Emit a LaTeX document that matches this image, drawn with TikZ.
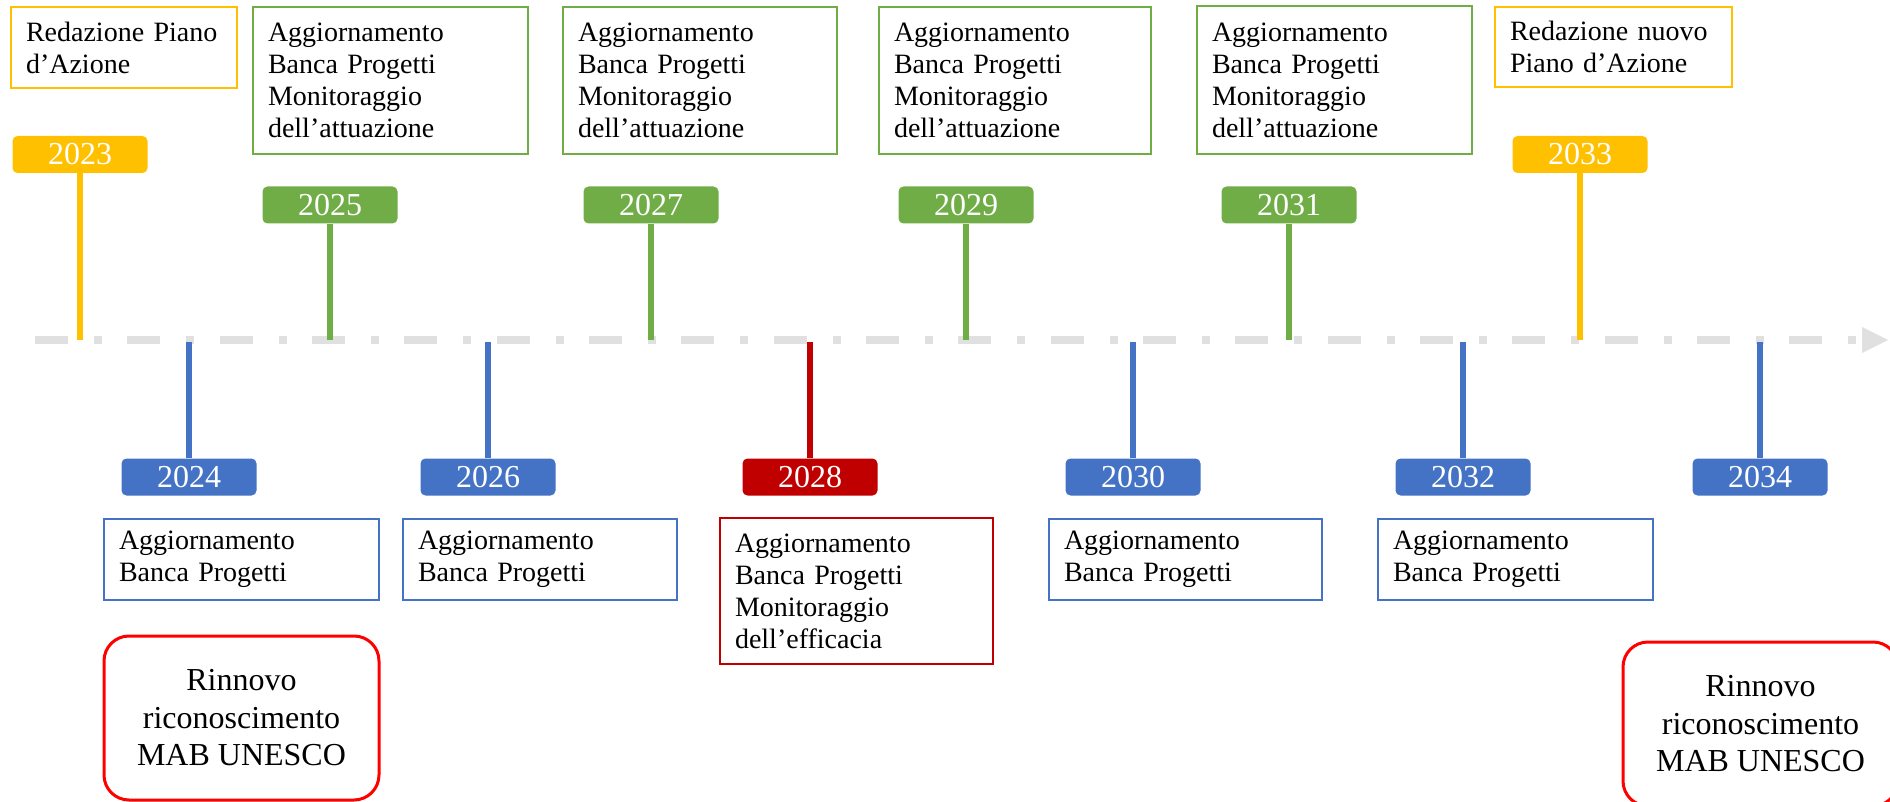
\documentclass[tikz,border=0pt]{standalone}
\usepackage{fontspec}
\setmainfont{Liberation Serif}
\definecolor{ygold}{HTML}{FFC000}
\definecolor{ggreen}{HTML}{70AD47}
\definecolor{bblue}{HTML}{4472C4}
\definecolor{dred}{HTML}{C00000}
\definecolor{brred}{HTML}{FF0000}
\definecolor{axcol}{HTML}{E0E0E0}
\begin{document}
\begin{tikzpicture}[x=0.5pt,y=-0.5pt,
  yearbox/.style={rectangle, rounded corners=2.5pt, minimum width=67.5pt, minimum height=18.5pt, inner sep=0pt, text=white, font=\fontsize{16}{18}\selectfont},
  stem/.style={line width=2.6pt},
  txtbox/.style={rectangle, draw, line width=1pt, align=left, inner xsep=7.5pt, inner ysep=0pt, font=\fontsize{14}{16}\selectfont},
  renewbox/.style={rectangle, draw=brred, line width=1.5pt, rounded corners=12.5pt, align=center, inner sep=0pt, minimum width=137.5pt, minimum height=82pt, font=\fontsize{16}{18.75}\selectfont},
  axisline/.style={draw=axcol, line width=4pt, dash pattern=on 16.5pt off 13pt on 4pt off 12.67pt}
]
\useasboundingbox (0,0) rectangle (1890,802);

% axis
\coordinate (axS) at (35,340);
\coordinate (axE) at (1862,340);
\coordinate (axU) at (1862,327);
\coordinate (axD) at (1862,353);
\coordinate (axT) at (1888,340);
\draw[axisline] (axS) -- (axE);
\fill[axcol] (axU) -- (axT) -- (axD) -- cycle;

% axis anchor points
\coordinate (a23) at (80,340);
\coordinate (a25) at (330,340);
\coordinate (a27) at (651,340);
\coordinate (a29) at (966,340);
\coordinate (a31) at (1289,340);
\coordinate (a33) at (1580,340);
\coordinate (a24) at (189,342);
\coordinate (a26) at (488,342);
\coordinate (a28) at (810,342);
\coordinate (a30) at (1133,342);
\coordinate (a32) at (1463,342);
\coordinate (a34) at (1760,342);

% year boxes
\node[yearbox, fill=ygold]  (y23) at (80,154.5) {2023};
\node[yearbox, fill=ggreen] (y25) at (330,205) {2025};
\node[yearbox, fill=ggreen] (y27) at (651,205) {2027};
\node[yearbox, fill=ggreen] (y29) at (966,205) {2029};
\node[yearbox, fill=ggreen] (y31) at (1289,205) {2031};
\node[yearbox, fill=ygold]  (y33) at (1580,154.5) {2033};
\node[yearbox, fill=bblue] (y24) at (189,477) {2024};
\node[yearbox, fill=bblue] (y26) at (488,477) {2026};
\node[yearbox, fill=dred]  (y28) at (810,477) {2028};
\node[yearbox, fill=bblue] (y30) at (1133,477) {2030};
\node[yearbox, fill=bblue] (y32) at (1463,477) {2032};
\node[yearbox, fill=bblue] (y34) at (1760,477) {2034};

% stems
\draw[stem, ygold]  (y23.south) -- (a23);
\draw[stem, ggreen] (y25.south) -- (a25);
\draw[stem, ggreen] (y27.south) -- (a27);
\draw[stem, ggreen] (y29.south) -- (a29);
\draw[stem, ggreen] (y31.south) -- (a31);
\draw[stem, ygold]  (y33.south) -- (a33);
\draw[stem, bblue] (a24) -- (y24.north);
\draw[stem, bblue] (a26) -- (y26.north);
\draw[stem, dred]  (a28) -- (y28.north);
\draw[stem, bblue] (a30) -- (y30.north);
\draw[stem, bblue] (a32) -- (y32.north);
\draw[stem, bblue] (a34) -- (y34.north);

% top text boxes
\node[txtbox, draw=ygold, minimum width=113pt, minimum height=40.5pt, text width=98pt] (t23) at (124,47.5)
  {Redazione Piano\\d’Azione};
\node[txtbox, draw=ggreen, minimum width=137.5pt, minimum height=73.5pt, text width=122.5pt] (t25) at (390.5,80.5)
  {Aggiornamento\\Banca Progetti\\Monitoraggio\\dell’attuazione};
\node[txtbox, draw=ggreen, minimum width=137pt, minimum height=73.5pt, text width=122pt] (t27) at (700,80.5)
  {Aggiornamento\\Banca Progetti\\Monitoraggio\\dell’attuazione};
\node[txtbox, draw=ggreen, minimum width=136pt, minimum height=73.5pt, text width=121pt] (t29) at (1015,80.5)
  {Aggiornamento\\Banca Progetti\\Monitoraggio\\dell’attuazione};
\node[txtbox, draw=ggreen, minimum width=137.5pt, minimum height=74pt, text width=122.5pt] (t31) at (1334.5,80)
  {Aggiornamento\\Banca Progetti\\Monitoraggio\\dell’attuazione};
\node[txtbox, draw=ygold, minimum width=118.5pt, minimum height=40pt, text width=103.5pt] (t33) at (1613.5,47)
  {Redazione nuovo\\Piano d’Azione};

% bottom text boxes
\node[txtbox, draw=bblue, minimum width=137.5pt, minimum height=40.5pt, text width=122.5pt] (b24) at (241.5,559.5)
  {Aggiornamento\\Banca Progetti};
\node[txtbox, draw=bblue, minimum width=137pt, minimum height=40.5pt, text width=122pt] (b26) at (540,559.5)
  {Aggiornamento\\Banca Progetti};
\node[txtbox, draw=dred, minimum width=136.5pt, minimum height=73pt, text width=121.5pt] (b28) at (856.5,591)
  {Aggiornamento\\Banca Progetti\\Monitoraggio\\dell’efficacia};
\node[txtbox, draw=bblue, minimum width=136.5pt, minimum height=40.5pt, text width=121.5pt] (b30) at (1185.5,559.5)
  {Aggiornamento\\Banca Progetti};
\node[txtbox, draw=bblue, minimum width=137.5pt, minimum height=40.5pt, text width=122.5pt] (b32) at (1515.5,559.5)
  {Aggiornamento\\Banca Progetti};

% renewal boxes
\node[renewbox] (r1) at (241.5,718) {Rinnovo\\riconoscimento\\MAB UNESCO};
\node[renewbox] (r2) at (1760.5,724) {Rinnovo\\riconoscimento\\MAB UNESCO};
\end{tikzpicture}
\end{document}
